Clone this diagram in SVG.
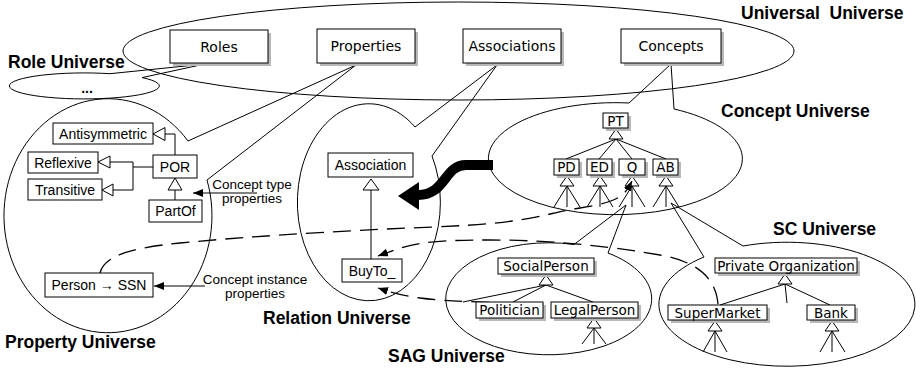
<svg xmlns="http://www.w3.org/2000/svg" width="916" height="371" viewBox="0 0 916 371">
<defs>
<style>
.u{fill:none;stroke:#000;stroke-width:1}
.lbl{font-family:"Liberation Sans",Arial,sans-serif;font-weight:bold;font-size:17.5px;fill:#000}
.bx{fill:#fff;stroke:#000;stroke-width:1}
.sh{fill:#b8b8b8}
.dv{font-family:"DejaVu Sans",Verdana,sans-serif;font-size:13.5px;text-anchor:middle;fill:#000}
.dvl{font-family:"DejaVu Sans",Verdana,sans-serif;font-size:14px;text-anchor:middle;fill:#000}
.ar{font-family:"Liberation Sans",Arial,sans-serif;font-size:14px;text-anchor:middle;fill:#000}
.ars{font-family:"Liberation Sans",Arial,sans-serif;font-size:13.5px;text-anchor:middle;fill:#000}
.ln{fill:none;stroke:#000;stroke-width:1}
.tri{fill:#fff;stroke:#000;stroke-width:1}
.dash{fill:none;stroke:#000;stroke-width:1.3;stroke-dasharray:18 9}
</style>
<marker id="af" markerUnits="userSpaceOnUse" markerWidth="11" markerHeight="9" refX="10" refY="4" orient="auto">
<path d="M0,0 L10,4 L0,8 Z" fill="#000"/>
</marker>
</defs>

<!-- universes -->
<g id="universal-universe">
<ellipse class="u" cx="458.5" cy="51" rx="335.5" ry="49"/>
<text class="lbl" x="741" y="18.5" style="white-space:pre">Universal  Universe</text>
</g>
<g id="role-universe">
<path class="u" d="M142,77.6 A75 13 0 1 1 110,73.7 L205,64 Z"/>
<text x="87" y="93" font-family="Liberation Sans, Arial, sans-serif" font-size="14" font-weight="bold" text-anchor="middle">...</text>
<text class="lbl" x="8" y="68">Role Universe</text>
</g>
<g id="property-universe">
<path class="u" d="M207,180 A104 117 0 1 1 188,141 L356,65 Z"/>
<text class="lbl" x="5" y="348">Property Universe</text>
</g>
<g id="relation-universe">
<path class="u" d="M432,156 A71.5 98.5 0 1 1 415,127 L497,65 Z"/>
<text class="lbl" x="263" y="323.5">Relation Universe</text>
</g>
<g id="concept-universe">
<path class="u" d="M674,109 A127 56 0 1 1 629,103 L671,64 Z"/>
<text class="lbl" x="721" y="117">Concept Universe</text>
</g>
<g id="sag-universe">
<path class="u" d="M608,253 A103 56 0 1 1 574,244.5 L626,205 Z"/>
<text class="lbl" x="388" y="362">SAG Universe</text>
</g>
<g id="sc-universe">
<path class="u" d="M743,246 A128 62 0 1 1 704,257 L671,203 Z"/>
<text class="lbl" x="773" y="235">SC Universe</text>
</g>

<!-- connectors -->
<g id="connectors">
<!-- property universe generalizations -->
<path class="ln" d="M165,134 H175 V155 M110,162 H133 V190 M133,167 H153 M113,190 H133 M175,190 V200"/>
<polygon class="tri" points="153,134 165,127.5 165,140.5"/>
<polygon class="tri" points="98,162 110,156 110,168"/>
<polygon class="tri" points="102,190 113,184 113,196"/>
<polygon class="tri" points="175,178 168,190 182,190"/>
<!-- property labels arrows -->
<path class="ln" d="M257,193 H193" marker-end="url(#af)"/>
<path class="ln" d="M205,286 H154" marker-end="url(#af)"/>
<!-- relation -->
<path class="ln" d="M371,190 V259"/>
<polygon class="tri" points="371,179 363,190 379,190"/>
<!-- concept tree -->
<path class="ln" d="M616,139 L566,159 M616,139 L599,159 M616,139 L632,159 M616,139 L666,159"/>
<polygon class="tri" points="616,129 609,139 623,139"/>
<path class="ln" d="M567,186 L554,207 M567,186 V207 M567,186 L580,207 M600,186 L587,207 M600,186 V207 M600,186 L613,207 M632,186 L619,207 M632,186 V207 M632,186 L645,207 M666,186 L653,207 M666,186 V207 M666,186 L679,207"/>
<polygon class="tri" points="567,176 560,186 574,186"/>
<polygon class="tri" points="600,176 593,186 607,186"/>
<polygon class="tri" points="632,176 625,186 639,186"/>
<polygon class="tri" points="666,176 659,186 673,186"/>
<!-- SAG tree -->
<path class="ln" d="M546,285 L513,302 M546,285 L593,302 M546,285 L463,302"/>
<polygon class="tri" points="546,275 539,285 553,285"/>
<path class="ln" d="M594,328 L582,344 M594,328 V344 M594,328 L606,344"/>
<polygon class="tri" points="594,318 587,328 601,328"/>
<!-- SC tree -->
<path class="ln" d="M785,284 L720,305 M785,284 L830,305 M785,284 L787,303"/>
<polygon class="tri" points="785,274 778,284 792,284"/>
<path class="ln" d="M715,331 L703,352 M715,331 V352 M715,331 L727,352 M832,331 L820,352 M832,331 V352 M832,331 L845,352"/>
<polygon class="tri" points="715,321 708,331 722,331"/>
<polygon class="tri" points="832,321 825,331 839,331"/>
<!-- dashed links -->
<path class="dash" d="M100,273 C104,256 130,248 180,243 S330,231 433,227 S540,214 580,208 S625,195 632,181" marker-end="url(#af)"/>
<path class="dash" d="M718,304 C716,280 700,262 660,255 S560,240 490,240 S410,244 378,256" marker-end="url(#af)"/>
<path class="dash" d="M593,318 C588,306 570,305 540,304 C490,302 450,302 420,298 C400,295 390,292 378,288" marker-end="url(#af)"/>
<!-- thick arrow -->
<path d="M493,165 H466 C444,165 446,195 418,195" fill="none" stroke="#000" stroke-width="10"/>
<polygon points="398,196 419,182 419,210" fill="#000"/>
</g>

<!-- universal boxes -->
<g id="roles"><rect class="sh" x="173" y="33" width="98" height="33"/><rect class="bx" x="170" y="30" width="98" height="33"/><text class="dvl" x="219" y="52">Roles</text></g>
<g id="properties"><rect class="sh" x="320" y="32" width="98" height="34"/><rect class="bx" x="317" y="29" width="98" height="34"/><text class="dvl" x="366" y="51">Properties</text></g>
<g id="associations"><rect class="sh" x="466" y="32" width="98" height="34"/><rect class="bx" x="463" y="29" width="98" height="34"/><text class="dvl" x="512" y="51">Associations</text></g>
<g id="concepts"><rect class="sh" x="624" y="32" width="100" height="34"/><rect class="bx" x="621" y="29" width="100" height="34"/><text class="dvl" x="671" y="51">Concepts</text></g>

<!-- property universe nodes -->
<g id="antisymmetric"><rect class="bx" x="53" y="123" width="100" height="21"/><text class="ar" x="103" y="138.5">Antisymmetric</text></g>
<g id="reflexive"><rect class="bx" x="28" y="152" width="70" height="21"/><text class="ar" x="63" y="167.5">Reflexive</text></g>
<g id="transitive"><rect class="bx" x="28" y="179" width="74" height="21"/><text class="ar" x="65" y="194.5">Transitive</text></g>
<g id="por"><rect class="bx" x="153" y="155" width="44" height="23"/><text class="ar" x="175" y="171.5">POR</text></g>
<g id="partof"><rect class="bx" x="149" y="200" width="53" height="22"/><text class="ar" x="175.5" y="216">PartOf</text></g>
<g id="person-ssn"><rect class="bx" x="45" y="273" width="108" height="24"/><text class="ar" x="99" y="290">Person → SSN</text></g>
<g id="concept-type-label"><text class="ars" x="252" y="189">Concept type</text><text class="ars" x="252" y="203">properties</text></g>
<g id="concept-instance-label"><text class="ars" x="255" y="284">Concept instance</text><text class="ars" x="255" y="298">properties</text></g>

<!-- relation universe nodes -->
<g id="association"><rect class="bx" x="328" y="153" width="85" height="24"/><text class="ar" x="370.5" y="170">Association</text></g>
<g id="buyto"><rect class="bx" x="342" y="259" width="60" height="23"/><text class="ar" x="372" y="275.5">BuyTo_</text></g>

<!-- concept universe nodes -->
<g id="pt"><rect class="sh" x="606" y="116" width="25" height="15"/><rect class="bx" x="603" y="113" width="25" height="15"/><text class="dv" x="615.5" y="125.5">PT</text></g>
<g id="pd"><rect class="sh" x="557" y="162" width="25" height="16"/><rect class="bx" x="554" y="159" width="25" height="16"/><text class="dv" x="566.5" y="172">PD</text></g>
<g id="ed"><rect class="sh" x="590" y="162" width="25" height="16"/><rect class="bx" x="587" y="159" width="25" height="16"/><text class="dv" x="599.5" y="172">ED</text></g>
<g id="q"><rect class="sh" x="622" y="162" width="26" height="16"/><rect class="bx" x="619" y="159" width="26" height="16"/><text class="dv" x="632" y="172">Q</text></g>
<g id="ab"><rect class="sh" x="656" y="162" width="25" height="16"/><rect class="bx" x="653" y="159" width="25" height="16"/><text class="dv" x="665.5" y="172">AB</text></g>

<!-- SAG nodes -->
<g id="socialperson"><rect class="sh" x="501" y="261" width="96" height="16"/><rect class="bx" x="498" y="258" width="96" height="16"/><text class="dv" x="546" y="271">SocialPerson</text></g>
<g id="politician"><rect class="sh" x="479" y="305" width="67" height="16"/><rect class="bx" x="476" y="302" width="67" height="16"/><text class="dv" x="509.5" y="315">Politician</text></g>
<g id="legalperson"><rect class="sh" x="554" y="305" width="87" height="16"/><rect class="bx" x="551" y="302" width="87" height="16"/><text class="dv" x="594.5" y="315">LegalPerson</text></g>

<!-- SC nodes -->
<g id="private-organization"><rect class="sh" x="718" y="261" width="142" height="15"/><rect class="bx" x="715" y="258" width="142" height="15"/><text class="dv" x="786" y="270.5">Private Organization</text></g>
<g id="supermarket"><rect class="sh" x="671" y="308" width="99" height="15"/><rect class="bx" x="668" y="305" width="99" height="15"/><text class="dv" x="717.5" y="317.5">SuperMarket</text></g>
<g id="bank"><rect class="sh" x="810" y="308" width="48" height="15"/><rect class="bx" x="807" y="305" width="48" height="15"/><text class="dv" x="831" y="317.5">Bank</text></g>
</svg>
